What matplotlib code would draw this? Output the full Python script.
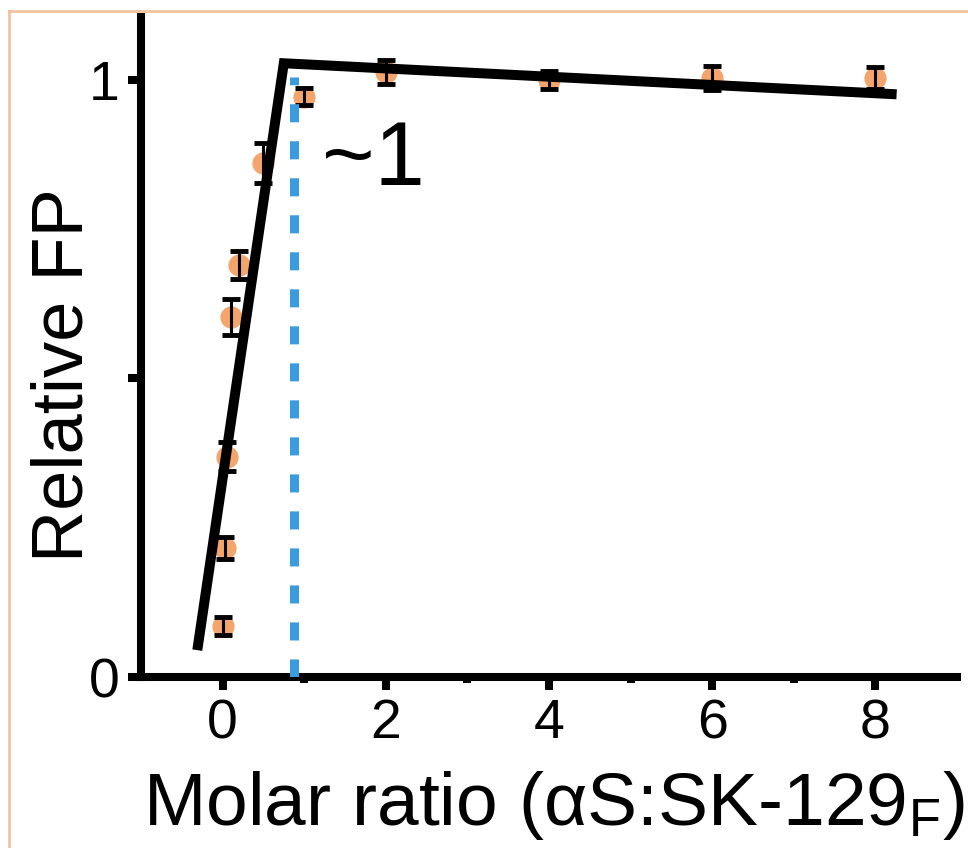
import matplotlib
matplotlib.use("Agg")
import matplotlib.pyplot as plt
from matplotlib.lines import Line2D

plt.rcParams['font.family'] = ['Liberation Sans', 'DejaVu Sans']
plt.rcParams['mathtext.fontset'] = 'custom'
plt.rcParams['mathtext.rm'] = 'Liberation Sans'
plt.rcParams['mathtext.it'] = 'Liberation Sans:italic'

# ---- data ----
molar_ratio = [0.01, 0.03, 0.06, 0.1, 0.2, 0.5, 1, 2, 4, 6, 8]
relative_fp = [0.085, 0.216, 0.369, 0.603, 0.690, 0.861, 0.972, 1.013, 1.000, 1.003, 1.003]
fp_error = [0.015, 0.018, 0.024, 0.030, 0.024, 0.033, 0.014, 0.020, 0.015, 0.020, 0.018]

fit_x = [-0.31, 0.75, 8.26]
fit_y = [0.045, 1.028, 0.976]

breakpoint_x = 0.87
breakpoint_label = "~1"

x_ticks = [0, 2, 4, 6, 8]
x_minor_ticks = [1, 3, 5, 7]
y_ticks = [0, 0.5, 1]
y_tick_labels = ["0", "", "1"]

xlabel = "Molar ratio (αS:SK-129$_\\mathregular{F}$)"
ylabel = "Relative FP"

# ---- figure ----
fig = plt.figure(figsize=(9.68, 8.48), dpi=100)
ax = fig.add_axes([141/968, 1-677/848, (957-141)/968, (677-17)/848])

orange = '#F4A56C'
blue = '#3A9BDD'

ax.plot(molar_ratio, relative_fp, 'o', color=orange, markersize=16,
        markeredgewidth=0, zorder=2)
ax.errorbar(molar_ratio, relative_fp, yerr=fp_error, fmt='none', ecolor='black',
            elinewidth=2.2, capsize=6.5, capthick=3.5, zorder=3)
ax.vlines(breakpoint_x, 0, 1.005, colors=blue, linewidth=6.5,
          linestyles=(0, (2.0, 2.1)), zorder=4)
ax.plot(fit_x, fit_y, color='black', linewidth=7.2, solid_joinstyle='miter',
        solid_capstyle='butt', zorder=5)

ax.text(1.22, 0.824, breakpoint_label, fontsize=65, ha='left', va='baseline')

ax.set_xlim(-1.0, 9.0)
ax.set_ylim(0, 1.1055)

ax.set_xticks(x_ticks)
ax.set_xticks(x_minor_ticks, minor=True)
ax.set_yticks(y_ticks)
ax.set_yticklabels(y_tick_labels)

ax.tick_params(axis='both', which='major', direction='out', length=9.4, width=5.8,
               labelsize=40, pad=6)
ax.tick_params(axis='x', which='minor', direction='out', length=4, width=5.8)

for side in ['top', 'right']:
    ax.spines[side].set_visible(False)
for side in ['left', 'bottom']:
    ax.spines[side].set_linewidth(5.8)

ax.set_xlabel(xlabel, fontsize=54, va='baseline')
ax.xaxis.set_label_coords(0.506, (677-825)/660)
ax.set_ylabel(ylabel, fontsize=52, va='center')
ax.yaxis.set_label_coords((64-141)/816, (677-375)/660)

# thin peach frame (top and left edges)
border = '#F1C3A1'
fig.add_artist(Line2D([9/968, 1], [1-11/848, 1-11/848], transform=fig.transFigure,
                      color=border, linewidth=2))
fig.add_artist(Line2D([9/968, 9/968], [0, 1-11/848], transform=fig.transFigure,
                      color=border, linewidth=2))

fig.savefig('out.png', dpi=100)
